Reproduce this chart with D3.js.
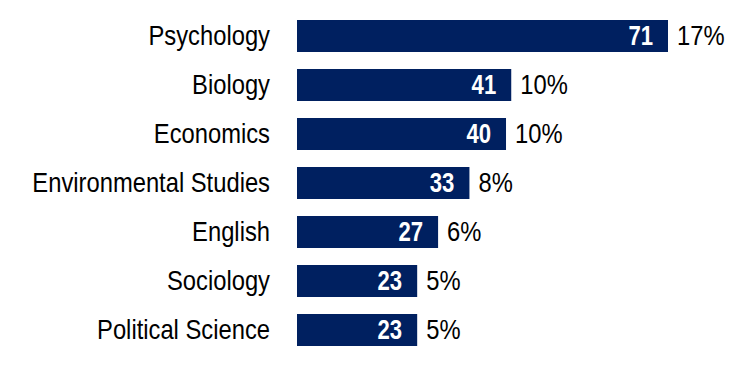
<!DOCTYPE html>
<html>
<head>
  <meta charset="utf-8">
  <script src="https://d3js.org/d3.v7.min.js"></script>
  <style>
    body { margin: 0; background: #fff; }
    text { font-family: "Liberation Sans Narrow", "Arial Narrow", "Liberation Sans", Arial, sans-serif; }
  </style>
</head>
<body>
<script>
// chart data
var majors = ["Psychology", "Biology", "Economics", "Environmental Studies", "English", "Sociology", "Political Science"];
var counts = [71, 41, 40, 33, 27, 23, 23];
var shares = ["17%", "10%", "10%", "8%", "6%", "5%", "5%"];

var width = 750, height = 366;
var plotLeft = 297, plotTop = 20;
// narrow-font look: squeeze regular Liberation Sans horizontally
var squeeze = 0.88, squeezeBold = 0.82;

var svg = d3.select("body").append("svg")
  .attr("width", width).attr("height", height);

var x = d3.scaleLinear().domain([0, 71]).range([plotLeft, 668]);
var y = d3.scaleBand().domain(majors).range([plotTop, plotTop + 49 * 6 + 32]).paddingInner(17 / 49).paddingOuter(0);

function mid(d) { return y(d) + y.bandwidth() / 2; }

var rows = svg.selectAll("g.row")
  .data(majors)
  .enter().append("g").attr("class", "row");

rows.append("rect")
  .attr("x", x(0))
  .attr("y", function(d) { return y(d); })
  .attr("width", function(d, i) { return x(counts[i]) - x(0); })
  .attr("height", y.bandwidth())
  .attr("fill", "#002060");

// category labels
rows.append("text")
  .attr("transform", function(d) { return "translate(270," + mid(d) + ") scale(" + squeeze + ",1)"; })
  .attr("dy", "0.35em")
  .attr("text-anchor", "end")
  .attr("font-size", 27)
  .attr("fill", "#000")
  .text(function(d) { return d; });

// counts inside the bars
rows.append("text")
  .attr("transform", function(d, i) { return "translate(" + (x(counts[i]) - 15) + "," + mid(d) + ") scale(" + squeezeBold + ",1)"; })
  .attr("dy", "0.35em")
  .attr("text-anchor", "end")
  .attr("font-size", 27)
  .attr("font-weight", "bold")
  .attr("fill", "#fff")
  .text(function(d, i) { return counts[i]; });

// percentages after the bars
rows.append("text")
  .attr("transform", function(d, i) { return "translate(" + (x(counts[i]) + 9) + "," + mid(d) + ") scale(" + squeeze + ",1)"; })
  .attr("dy", "0.35em")
  .attr("font-size", 27)
  .attr("fill", "#000")
  .text(function(d, i) { return shares[i]; });
</script>
</body>
</html>
